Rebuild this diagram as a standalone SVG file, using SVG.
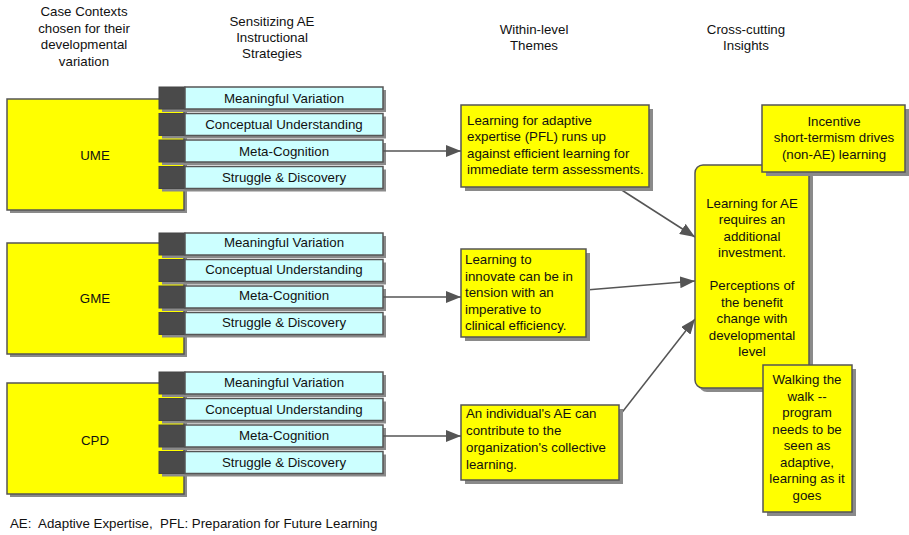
<svg xmlns="http://www.w3.org/2000/svg" width="909" height="535" viewBox="0 0 909 535">
<style>
text{font-family:"Liberation Sans",Arial,sans-serif;font-size:13.3px;fill:#111;white-space:pre}
.c{text-anchor:middle}
.sh{fill:#8a8a8a}
.y{fill:#ffff00;stroke:#555;stroke-width:1.5}
.cy{fill:#ccffff;stroke:#555;stroke-width:1.5}
.dk{fill:#4a4a4a;stroke:#444;stroke-width:1}
.ln{stroke:#555;stroke-width:1.5;fill:none;marker-end:url(#ah)}
</style>
<defs>
<marker id="ah" markerUnits="userSpaceOnUse" markerWidth="16" markerHeight="12" refX="15" refY="6" orient="auto">
<path d="M0,0 L15,6 L0,12 z" fill="#555"/>
</marker>
</defs>
<g id="headers">
<text class="c" x="84" y="16">Case Contexts</text>
<text class="c" x="84" y="33">chosen for their</text>
<text class="c" x="84" y="49">developmental</text>
<text class="c" x="84" y="66">variation</text>
<text class="c" x="272" y="26">Sensitizing AE</text>
<text class="c" x="272" y="42">Instructional</text>
<text class="c" x="272" y="58">Strategies</text>
<text class="c" x="534" y="34">Within-level</text>
<text class="c" x="534" y="50">Themes</text>
<text class="c" x="746" y="34">Cross-cutting</text>
<text class="c" x="746" y="50">Insights</text>
</g>
<g id="case-ume">
<rect class="sh" x="10" y="102" width="177" height="111"/>
<rect class="y" x="7" y="99" width="177" height="111"/>
<text class="c" x="95" y="160">UME</text>
</g>
<g id="case-gme">
<rect class="sh" x="10" y="246" width="177" height="111"/>
<rect class="y" x="7" y="243" width="177" height="111"/>
<text class="c" x="95" y="303">GME</text>
</g>
<g id="case-cpd">
<rect class="sh" x="10" y="386" width="177" height="111"/>
<rect class="y" x="7" y="383" width="177" height="111"/>
<text class="c" x="95" y="445">CPD</text>
</g>
<g id="ume-s1"><rect class="sh" x="162" y="90" width="224" height="22"/><rect class="dk" x="159" y="87" width="26" height="22"/><rect class="cy" x="185" y="87" width="198" height="22"/><text class="c" x="284" y="103">Meaningful Variation</text></g>
<g id="ume-s2"><rect class="sh" x="162" y="116.5" width="224" height="22"/><rect class="dk" x="159" y="113.5" width="26" height="22"/><rect class="cy" x="185" y="113.5" width="198" height="22"/><text class="c" x="284" y="129">Conceptual Understanding</text></g>
<g id="ume-s3"><rect class="sh" x="162" y="143" width="224" height="22"/><rect class="dk" x="159" y="140" width="26" height="22"/><rect class="cy" x="185" y="140" width="198" height="22"/><text class="c" x="284" y="156">Meta-Cognition</text></g>
<g id="ume-s4"><rect class="sh" x="162" y="169.5" width="224" height="22"/><rect class="dk" x="159" y="166.5" width="26" height="22"/><rect class="cy" x="185" y="166.5" width="198" height="22"/><text class="c" x="284" y="182">Struggle &amp; Discovery</text></g>
<g id="gme-s1"><rect class="sh" x="162" y="236" width="224" height="22"/><rect class="dk" x="159" y="233" width="26" height="22"/><rect class="cy" x="185" y="233" width="198" height="22"/><text class="c" x="284" y="247">Meaningful Variation</text></g>
<g id="gme-s2"><rect class="sh" x="162" y="262.5" width="224" height="22"/><rect class="dk" x="159" y="259.5" width="26" height="22"/><rect class="cy" x="185" y="259.5" width="198" height="22"/><text class="c" x="284" y="274">Conceptual Understanding</text></g>
<g id="gme-s3"><rect class="sh" x="162" y="289" width="224" height="22"/><rect class="dk" x="159" y="286" width="26" height="22"/><rect class="cy" x="185" y="286" width="198" height="22"/><text class="c" x="284" y="300">Meta-Cognition</text></g>
<g id="gme-s4"><rect class="sh" x="162" y="315.5" width="224" height="22"/><rect class="dk" x="159" y="312.5" width="26" height="22"/><rect class="cy" x="185" y="312.5" width="198" height="22"/><text class="c" x="284" y="327">Struggle &amp; Discovery</text></g>
<g id="cpd-s1"><rect class="sh" x="162" y="375" width="224" height="22"/><rect class="dk" x="159" y="372" width="26" height="22"/><rect class="cy" x="185" y="372" width="198" height="22"/><text class="c" x="284" y="387">Meaningful Variation</text></g>
<g id="cpd-s2"><rect class="sh" x="162" y="401.5" width="224" height="22"/><rect class="dk" x="159" y="398.5" width="26" height="22"/><rect class="cy" x="185" y="398.5" width="198" height="22"/><text class="c" x="284" y="414">Conceptual Understanding</text></g>
<g id="cpd-s3"><rect class="sh" x="162" y="428" width="224" height="22"/><rect class="dk" x="159" y="425" width="26" height="22"/><rect class="cy" x="185" y="425" width="198" height="22"/><text class="c" x="284" y="440">Meta-Cognition</text></g>
<g id="cpd-s4"><rect class="sh" x="162" y="454.5" width="224" height="22"/><rect class="dk" x="159" y="451.5" width="26" height="22"/><rect class="cy" x="185" y="451.5" width="198" height="22"/><text class="c" x="284" y="467">Struggle &amp; Discovery</text></g>
<g id="connectors">
<line class="ln" x1="383" y1="151" x2="461" y2="151"/>
<line class="ln" x1="383" y1="297" x2="461" y2="297"/>
<line class="ln" x1="383" y1="436" x2="461" y2="436"/>
<line class="ln" x1="617" y1="187" x2="695" y2="237"/>
<line class="ln" x1="586" y1="290" x2="695" y2="281"/>
<line class="ln" x1="620" y1="415" x2="695" y2="319"/>
</g>
<g id="theme-ume">
<rect class="sh" x="465" y="109" width="188" height="82"/>
<rect class="y" x="461" y="105" width="188" height="82"/>
<text x="467" y="125">Learning for adaptive</text>
<text x="467" y="141">expertise (PFL) runs up</text>
<text x="467" y="158">against efficient learning for</text>
<text x="467" y="174">immediate term assessments.</text>
</g>
<g id="theme-gme">
<rect class="sh" x="465" y="253" width="125" height="88"/>
<rect class="y" x="461" y="249" width="125" height="88"/>
<text x="465" y="264">Learning to</text>
<text x="465" y="281">innovate can be in</text>
<text x="465" y="297">tension with an</text>
<text x="465" y="314">imperative to</text>
<text x="465" y="330">clinical efficiency.</text>
</g>
<g id="theme-cpd">
<rect class="sh" x="465" y="409" width="158" height="75"/>
<rect class="y" x="461" y="405" width="158" height="75"/>
<text x="466" y="418">An individual's AE can</text>
<text x="466" y="435">contribute to the</text>
<text x="466" y="452">organization's collective</text>
<text x="466" y="469">learning.</text>
</g>
<g id="insight-main">
<rect class="sh" x="699" y="169" width="114" height="223" rx="8"/>
<rect class="y" x="695" y="165" width="114" height="223" rx="8"/>
<text class="c" x="752" y="208">Learning for AE</text>
<text class="c" x="752" y="224">requires an</text>
<text class="c" x="752" y="241">additional</text>
<text class="c" x="752" y="257">investment.</text>
<text class="c" x="752" y="290">Perceptions of</text>
<text class="c" x="752" y="307">the benefit</text>
<text class="c" x="752" y="323">change with</text>
<text class="c" x="752" y="340">developmental</text>
<text class="c" x="752" y="356">level</text>
</g>
<g id="insight-incentive">
<rect class="sh" x="766" y="109" width="143" height="67"/>
<rect class="y" x="762" y="105" width="143" height="67"/>
<text class="c" x="834" y="126">Incentive</text>
<text class="c" x="834" y="142">short-termism drives</text>
<text class="c" x="834" y="159">(non-AE) learning</text>
</g>
<g id="insight-walking">
<rect class="sh" x="767" y="369" width="89" height="147"/>
<rect class="y" x="763" y="365" width="89" height="147"/>
<text class="c" x="807" y="384">Walking the</text>
<text class="c" x="807" y="401">walk --</text>
<text class="c" x="807" y="417">program</text>
<text class="c" x="807" y="434">needs to be</text>
<text class="c" x="807" y="450">seen as</text>
<text class="c" x="807" y="467">adaptive,</text>
<text class="c" x="807" y="483">learning as it</text>
<text class="c" x="807" y="500">goes</text>
</g>
<g id="footer">
<text x="10" y="528">AE:  Adaptive Expertise,  PFL: Preparation for Future Learning</text>
</g>
</svg>
